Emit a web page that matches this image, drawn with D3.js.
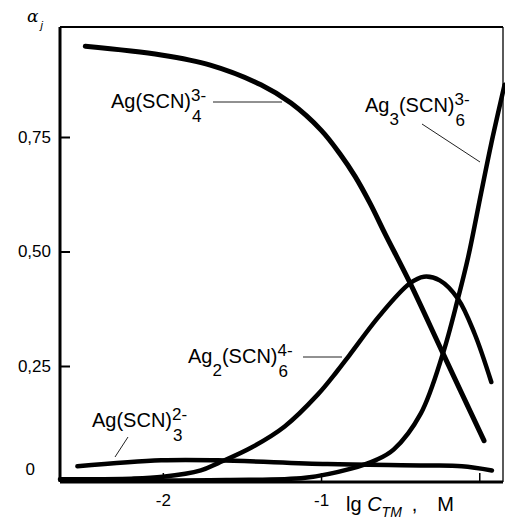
<!DOCTYPE html>
<html>
<head>
<meta charset="utf-8">
<script src="https://cdn.jsdelivr.net/npm/d3@7"></script>
<style>
  body { margin: 0; background: #fff; }
  text { font-family: "Liberation Sans", Arial, sans-serif; fill: #000; }
</style>
</head>
<body>
<svg id="chart"></svg>
<script>
const width = 505;
const height = 521;

// values: x = lg C_TM (M), y = alpha_j
const lgC_AgSCN4 = [-2.49, -2.01, -1.70, -1.38, -1.19, -1.00, -0.88, -0.785, -0.69, -0.596, -0.44, -0.23, 0.03];
const alpha_AgSCN4 = [0.948, 0.929, 0.907, 0.864, 0.824, 0.765, 0.713, 0.664, 0.605, 0.539, 0.433, 0.278, 0.087];

const lgC_Ag2SCN6 = [-2.65, -2.2, -2.0, -1.76, -1.65, -1.44, -1.23, -1.02, -0.90, -0.82, -0.63, -0.44, -0.35, -0.25, -0.135, -0.03, 0.076];
const alpha_Ag2SCN6 = [0.003, 0.004, 0.008, 0.022, 0.038, 0.072, 0.118, 0.188, 0.238, 0.274, 0.360, 0.430, 0.445, 0.437, 0.397, 0.321, 0.215];

const lgC_Ag3SCN6 = [-2.3, -1.6, -1.1, -0.81, -0.65, -0.54, -0.37, -0.23, -0.135, -0.07, 0.013, 0.076, 0.16];
const alpha_Ag3SCN6 = [0.0, 0.001, 0.006, 0.026, 0.045, 0.068, 0.146, 0.277, 0.397, 0.488, 0.63, 0.736, 0.864];

const lgC_AgSCN3 = [-2.54, -2.01, -1.65, -0.96, -0.33, -0.11, 0.08];
const alpha_AgSCN3 = [0.031, 0.044, 0.044, 0.036, 0.033, 0.031, 0.022];

const xTicks = [-2, -1, 0];
const xTickLabels = ["-2", "-1", ""];
const yTicks = [0, 0.25, 0.5, 0.75];
const yTickLabels = ["0", "0,25", "0,50", "0,75"];

const svg = d3.select("#chart").attr("width", width).attr("height", height);

const frameLeft = 60, frameRight = 503, frameTop = 27, frameBottom = 482;

const x = d3.scaleLinear().domain([-2.65, 0.15]).range([frameLeft, frameRight]);
const y = d3.scaleLinear().domain([0, 1]).range([480.5, 22.5]);

// frame: top and right lines
svg.append("line").attr("x1", frameLeft).attr("x2", frameRight).attr("y1", frameTop).attr("y2", frameTop)
  .attr("stroke", "#000").attr("stroke-width", 2);
svg.append("line").attr("x1", frameRight).attr("x2", frameRight).attr("y1", frameTop).attr("y2", frameBottom)
  .attr("stroke", "#000").attr("stroke-width", 1.3);

// y axis, ticks pointing inwards
const yAxis = svg.append("g")
  .attr("transform", `translate(${frameLeft},0)`)
  .call(d3.axisLeft(y).tickValues(yTicks).tickSize(-10).tickSizeOuter(0).tickPadding(9)
    .tickFormat((d, i) => yTickLabels[i]));
yAxis.select(".domain").attr("d", `M0,${frameTop}V${frameBottom}`).attr("stroke-width", 3);
yAxis.selectAll(".tick line").attr("stroke-width", 2);
yAxis.selectAll("text").style("font-size", "17px");
yAxis.selectAll(".tick").filter(d => d === 0).select("text").attr("x", -25).attr("dy", "-0.35em");

// x axis, ticks pointing inwards
const xAxis = svg.append("g")
  .attr("transform", `translate(0,${frameBottom})`)
  .call(d3.axisBottom(x).tickValues(xTicks).tickSize(-9).tickSizeOuter(0).tickPadding(12)
    .tickFormat((d, i) => xTickLabels[i]));
xAxis.select(".domain").attr("d", `M${frameLeft},0H${frameRight}`).attr("stroke-width", 3);
xAxis.selectAll(".tick line").attr("stroke-width", 1.5);
xAxis.selectAll("text").style("font-size", "17px");

// curves
const line = d3.line().x(d => x(d[0])).y(d => y(d[1])).curve(d3.curveCatmullRom);
const series = [
  { xs: lgC_AgSCN4, ys: alpha_AgSCN4, w: 5 },
  { xs: lgC_Ag2SCN6, ys: alpha_Ag2SCN6, w: 4.5 },
  { xs: lgC_Ag3SCN6, ys: alpha_Ag3SCN6, w: 4.5 },
  { xs: lgC_AgSCN3, ys: alpha_AgSCN3, w: 4.5 }
];
series.forEach(s => {
  svg.append("path")
    .datum(s.xs.map((v, i) => [v, s.ys[i]]))
    .attr("d", line)
    .attr("fill", "none")
    .attr("stroke", "#000")
    .attr("stroke-width", s.w)
    .attr("stroke-linecap", "round")
    .attr("stroke-linejoin", "round");
});

// chemical formula label with stacked super/subscripts
function formula(px, py, parts) {
  const g = svg.append("g").attr("transform", `translate(${px},${py})`);
  let cx = 0;
  parts.forEach(p => {
    if (p.sup !== undefined) {
      const a = g.append("text").attr("x", cx).attr("y", -7).style("font-size", "17px").text(p.sup);
      const b = g.append("text").attr("x", cx + 1).attr("y", 14).style("font-size", "17px").text(p.sub);
      cx += Math.max(a.node().getComputedTextLength(), b.node().getComputedTextLength() + 1);
    } else if (p.sub !== undefined) {
      const t = g.append("text").attr("x", cx).attr("y", 13).style("font-size", "17px").text(p.sub);
      cx += t.node().getComputedTextLength();
    } else {
      const t = g.append("text").attr("x", cx).attr("y", 0).style("font-size", "20px").text(p.t);
      cx += t.node().getComputedTextLength();
    }
  });
}

formula(111, 108, [{ t: "Ag(SCN)" }, { sup: "3-", sub: "4" }]);
formula(365, 112, [{ t: "Ag" }, { sub: "3" }, { t: "(SCN)" }, { sup: "3-", sub: "6" }]);
formula(188, 363, [{ t: "Ag" }, { sub: "2" }, { t: "(SCN)" }, { sup: "4-", sub: "6" }]);
formula(92, 427, [{ t: "Ag(SCN)" }, { sup: "2-", sub: "3" }]);

// leader lines
const leaders = [
  [213, 102, 282, 102],
  [422, 124, 480, 162],
  [303, 357, 342, 357],
  [128, 437, 115, 457]
];
leaders.forEach(l => {
  svg.append("line").attr("x1", l[0]).attr("y1", l[1]).attr("x2", l[2]).attr("y2", l[3])
    .attr("stroke", "#222").attr("stroke-width", 1);
});

// axis titles
const xt = svg.append("text").attr("x", 346).attr("y", 511).style("font-size", "20px");
xt.append("tspan").text("lg ");
xt.append("tspan").style("font-style", "italic").text("C");
xt.append("tspan").style("font-style", "italic").style("font-size", "14px").attr("dy", 6).text("TM");
xt.append("tspan").attr("dy", -6).attr("dx", 10).text(",");
xt.append("tspan").attr("dx", 20).text("M");

const yt = svg.append("text").attr("x", 27).attr("y", 22).style("font-size", "17px");
yt.append("tspan").style("font-style", "italic").style("font-family", "'DejaVu Serif', serif").text("α");
yt.append("tspan").style("font-style", "italic").style("font-size", "11px").attr("dy", 7).attr("dx", 2).text("j");
</script>
</body>
</html>
